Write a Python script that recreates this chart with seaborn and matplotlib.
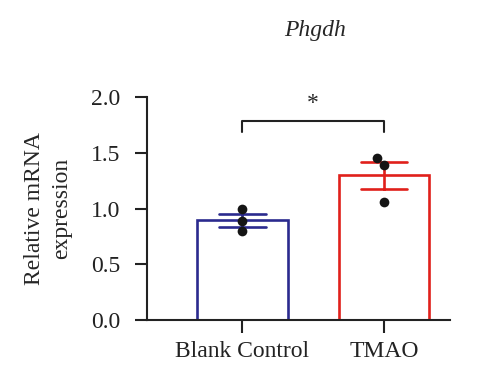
import pandas as pd
import matplotlib.pyplot as plt
import seaborn as sns

# Values
groups = ['Blank Control', 'Blank Control', 'Blank Control', 'TMAO', 'TMAO', 'TMAO']
values = [1.00, 0.89, 0.80, 1.45, 1.39, 1.06]
group_order = ['Blank Control', 'TMAO']
group_colors = ['#2b2a8e', '#e0201b']
y_ticks = [0.0, 0.5, 1.0, 1.5, 2.0]

df = pd.DataFrame({'group': groups, 'value': values})
df['group'] = pd.Categorical(df['group'], categories=group_order)

sns.set_style('ticks')
plt.rcParams['font.family'] = ['Liberation Serif', 'DejaVu Serif']

fig = plt.figure(figsize=(5, 3.83), dpi=100)
ax = fig.add_axes([0.294, 0.1645, 0.606, 0.582])

# one call per group so bar outline and error bar share the group's colour
for g, c in zip(group_order, group_colors):
    sns.barplot(data=df[df['group'] == g], x='group', y='value', order=group_order,
                color=c, fill=False, width=0.64, errorbar='se', capsize=0.33,
                linewidth=1.9, err_kws={'linewidth': 1.9, 'color': c}, ax=ax)

sns.swarmplot(data=df, x='group', y='value', order=group_order,
              color='#151515', size=7, ax=ax)

# significance bracket
ax.plot([0, 0, 1, 1], [1.69, 1.785, 1.785, 1.69], color='#222222', lw=1.5)
ax.text(0.5, 1.945, '*', ha='center', va='center', fontsize=17)

ax.set_xlim(-0.67, 1.465)
ax.set_ylim(0, 2.0)
ax.set_yticks(y_ticks)
ax.set_yticklabels([f'{t:.1f}' for t in y_ticks])
ax.tick_params(axis='both', labelsize=17, length=9, width=1.5, colors='#222222')
ax.tick_params(axis='y', pad=10)
ax.tick_params(axis='x', pad=6)
for s in ['left', 'bottom']:
    ax.spines[s].set_linewidth(1.5)
    ax.spines[s].set_color('#222222')
sns.despine(ax=ax)

ax.set_xlabel('')
ax.set_ylabel('Relative mRNA\nexpression', fontsize=17, linespacing=1.35, labelpad=14)
fig.text(0.63, 0.92, 'Phgdh', fontsize=17, style='italic', ha='center', va='center')

plt.savefig('out.png', dpi=100)
